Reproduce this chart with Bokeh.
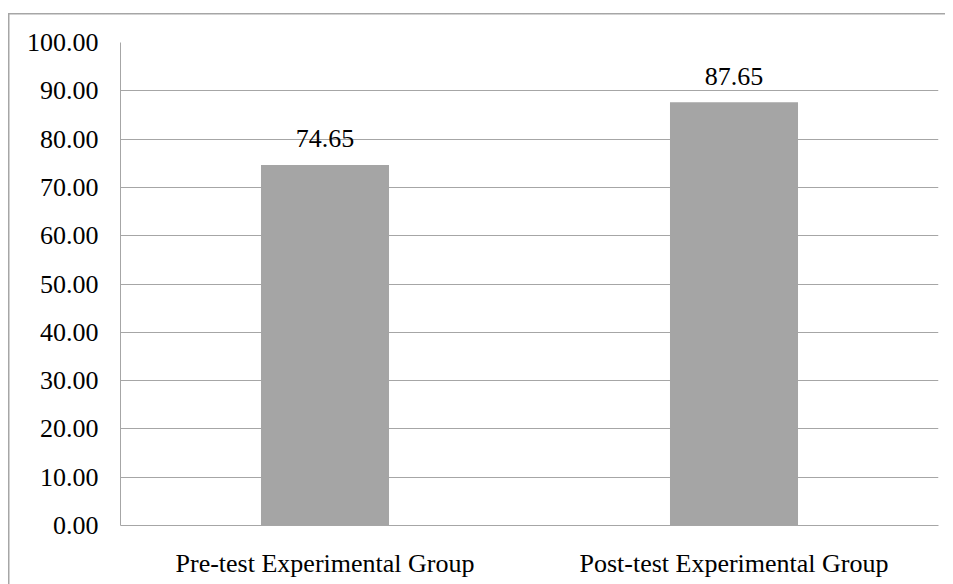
from bokeh.plotting import figure
from bokeh.models import ColumnDataSource, Range1d, FixedTicker, NumeralTickFormatter
from bokeh.core.properties import value
from bokeh.embed import file_html
from bokeh.resources import INLINE

categories = ["Pre-test Experimental Group", "Post-test Experimental Group"]
scores = [74.65, 87.65]
y_ticks = [0, 10, 20, 30, 40, 50, 60, 70, 80, 90, 100]

FONT = "'Times New Roman', 'Liberation Serif', serif"
GRID = "#a6a6a6"

src = ColumnDataSource(dict(
    cat=categories,
    val=scores,
    lab=[f"{v:.2f}" for v in scores],
))

p = figure(
    x_range=categories,
    y_range=Range1d(0, 100),
    width=945, height=584,
    output_backend="svg",
    toolbar_location=None,
    min_border_left=120, min_border_right=7,
    min_border_top=42, min_border_bottom=59,
)
p.background_fill_color = "white"
p.border_fill_color = None
p.outline_line_color = None
p.styles = {
    "background": (
        "linear-gradient(#a6a6a6,#a6a6a6) 8px 13px / 1.5px 100% no-repeat, "
        "linear-gradient(#a6a6a6,#a6a6a6) 8px 13px / 100% 1.5px no-repeat, white"
    )
}

p.vbar(x="cat", top="val", width=0.313, source=src,
       fill_color="#a5a5a5", line_color=None)

p.text(x="cat", y="val", text="lab", source=src,
       text_font=value(FONT), text_font_size="26px", text_color="black",
       text_align="center", text_baseline="alphabetic", y_offset=-26)

# y axis
p.yaxis.ticker = FixedTicker(ticks=y_ticks)
p.yaxis.formatter = NumeralTickFormatter(format="0.00")
p.yaxis.major_label_text_font = FONT
p.yaxis.major_label_text_font_size = "26px"
p.yaxis.major_label_text_color = "black"
p.yaxis.major_tick_line_color = None
p.yaxis.minor_tick_line_color = None
p.yaxis.major_label_standoff = 16
p.yaxis.axis_line_color = GRID

# x axis
p.xaxis.major_label_text_font = FONT
p.xaxis.major_label_text_font_size = "26px"
p.xaxis.major_label_text_color = "black"
p.xaxis.major_tick_line_color = None
p.xaxis.major_label_standoff = 17
p.xaxis.axis_line_color = GRID

p.xgrid.grid_line_color = None
p.ygrid.ticker = FixedTicker(ticks=y_ticks)
p.ygrid.grid_line_color = GRID
p.ygrid.grid_line_width = 1

open("out.html", "w").write(file_html(p, INLINE))
